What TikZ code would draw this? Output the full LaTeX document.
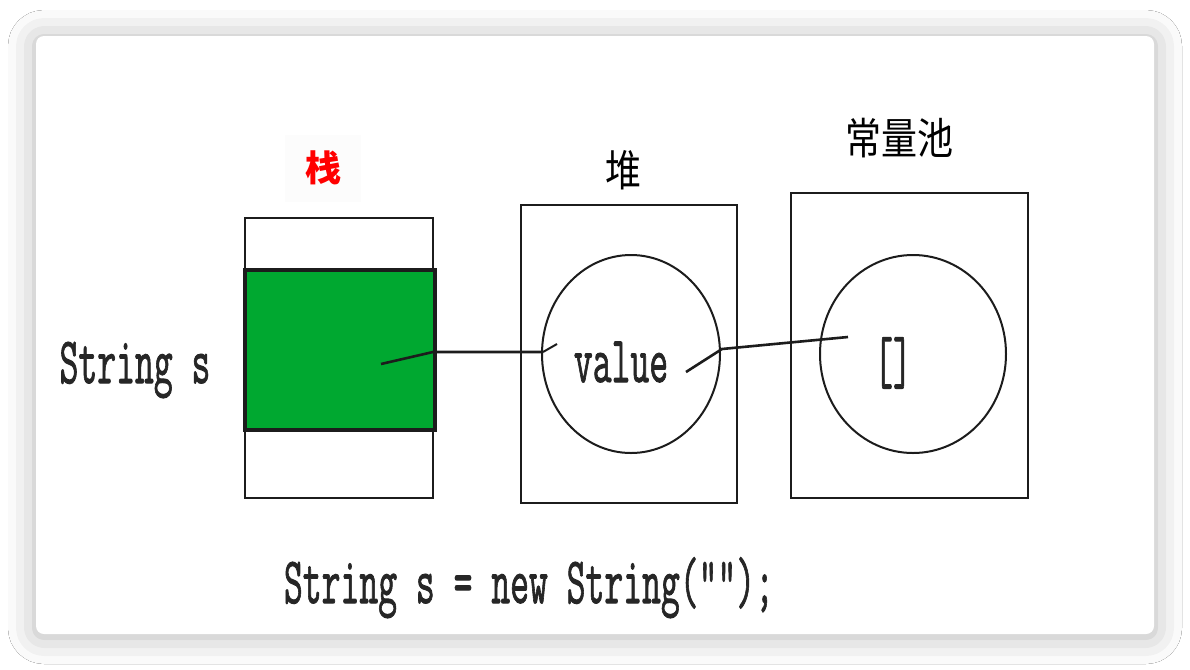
\documentclass[tikz,border=0pt]{standalone}
\usepackage{fontspec}
\usepackage{graphicx}
\usetikzlibrary{%
  shapes.geometric,
  shadows.blur
}
\newfontfamily\cjk{Noto Sans CJK SC}
\newfontfamily\codefont[FakeBold=1.6]{Latin Modern Mono}
\definecolor{stackgreen}{RGB}{0,168,48}
\definecolor{outline}{RGB}{28,28,28}
\newcommand\tallcode[1]{\scalebox{1}[1.8]{\codefont #1}}
\newcommand\tallhan[1]{\scalebox{1}[1.2]{\cjk #1}}
\tikzset{
  mem box/.style={draw=outline, line width=1.4pt, inner sep=0pt},
  obj ring/.style={ellipse, draw=outline, line width=1pt, inner sep=0pt},
  link/.style={draw=outline, line width=1.3pt},
  code text/.style={inner sep=0pt, anchor=base, text=black!85, font=\fontsize{18.3}{18}\selectfont},
  han text/.style={inner sep=0pt, font=\fontsize{18}{18}\selectfont},
}

\begin{document}
\begin{tikzpicture}[x=0.5pt, y=-0.5pt]
\useasboundingbox (0,0) rectangle (1190,670);
%%%card
\fill[white] (0,0) rectangle (1190,670);
\fill[white, rounded corners=4pt, blur shadow={shadow xshift=0pt, shadow yshift=-1pt, shadow blur radius=14pt, shadow opacity=30}] (36,36) rectangle (1154,634);

%%%stack
\node[mem box, minimum width=94pt, minimum height=140pt] (stack) at (339,358) {};
\node[mem box, fill=stackgreen, line width=2pt, minimum width=95pt, minimum height=80pt] (slot) at (340,350) {};
\node[han text, text=red, fill=black!1, minimum width=38pt, minimum height=33.5pt] (stacklabel) at (323,168) {\cjk\bfseries 栈};

%%%heap
\node[mem box, minimum width=108pt, minimum height=149pt] (heap) at (629,354) {};
\node[obj ring, minimum width=89pt, minimum height=99pt] (heapobj) at (631,354) {};
\node[code text] (value) at (621,382) {\tallcode{value}};
\node[han text] (heaplabel) at (623,170) {\tallhan{堆}};

%%%constant pool
\node[mem box, minimum width=118.5pt, minimum height=152.5pt] (pool) at (909.5,345.5) {};
\node[obj ring, minimum width=93pt, minimum height=99pt] (poolobj) at (913,354) {};
\node[code text] (chars) at (893,383) {\tallcode{[]}};
\node[han text] (poollabel) at (899,138) {\tallhan{常量池}};

%%%references
\coordinate (sref) at (381,364);
\coordinate (sbend) at (433,352);
\coordinate (hin) at (543,352);
\coordinate (htip) at (557,344);
\draw[link] (sref) -- (sbend) -- (hin);
\draw[link, line width=1pt] (hin) -- (htip);
\coordinate (vref) at (686,372);
\coordinate (vout) at (722,349);
\coordinate (ptip) at (848,337);
\draw[link] (vref) -- (vout) -- (ptip);

%%%code
\node[code text] (decl) at (135,383) {\tallcode{String s}};
\node[code text] (stmt) at (529,603) {\tallcode{String s = new String(“”);}};

\end{tikzpicture}
\end{document}
